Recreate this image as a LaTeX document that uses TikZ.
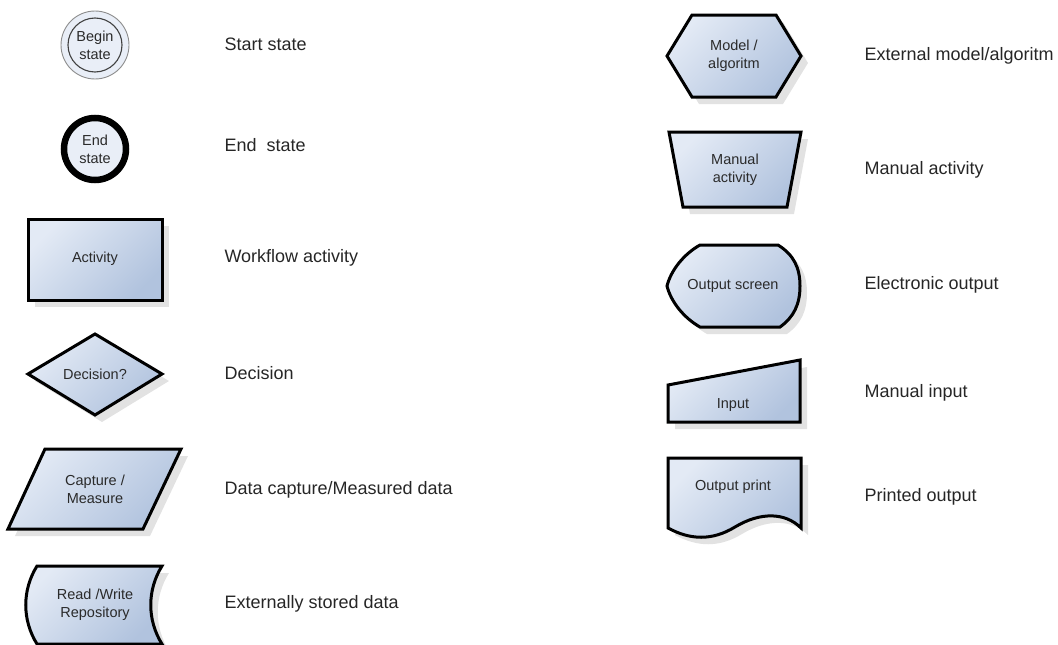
\documentclass[tikz,border=0pt]{standalone}
\usepackage{fontspec}
\setmainfont{Liberation Sans}
\usetikzlibrary{shadows}
\definecolor{symlight}{HTML}{E3EAF5}
\definecolor{symdark}{HTML}{B1C3DE}
\definecolor{ringfill}{HTML}{E9EEF7}
\definecolor{shadowgray}{HTML}{E2E2E2}
\definecolor{symtext}{HTML}{2A2A2A}
\begin{document}
\begin{tikzpicture}[x=1pt,y=-1pt,
    sym/.style={draw=black,line width=3pt,line join=miter,
      top color=symlight,bottom color=symdark,shading angle=45,
      drop shadow={shadow xshift=7pt,shadow yshift=-7pt,fill=shadowgray,opacity=1}},
    symlbl/.style={align=center,text=symtext,font=\fontsize{14.5}{18}\selectfont},
    lbl/.style={anchor=west,text=black!85,font=\fontsize{18}{22}\selectfont}]
      \useasboundingbox (0,0) rectangle (1058,645);
      \clip (0,0) rectangle (1058,645);

      % left column
      \draw[fill=ringfill,draw=black!45,line width=0.9pt] (95,45) circle (34);
      \draw[draw=black!75,line width=1.1pt] (95,45) circle (27);
      \node[symlbl] (begin) at (95,45) {Begin\\state};
      \node[lbl] (begin-lbl) at (221,44) {Start state};

      \draw[fill=ringfill,line width=6.5pt] (95,149) circle (31);
      \node[symlbl] (end) at (95,149) {End\\state};
      \node[lbl] (end-lbl) at (221,145) {End\ \ state};

      \path[sym] (28,219) rectangle (162,300);
      \node[symlbl] (activity) at (95,259) {Activity};
      \node[lbl] (activity-lbl) at (221,258) {Workflow activity};

      \path[sym] (28,374) -- (95,334) -- (162,374) -- (95,415) -- cycle;
      \node[symlbl] (decision) at (95,374) {Decision?};
      \node[lbl] (decision-lbl) at (221,373) {Decision};

      \path[sym] (45,449) -- (181,449) -- (143,529) -- (8,529) -- cycle;
      \node[symlbl] (capture) at (95,489) {Capture /\\Measure};
      \node[lbl] (capture-lbl) at (221,490) {Data capture/Measured data};

      \path[sym] (37,566) -- (162,566) .. controls (147,590) and (147,620) .. (162,644)
        -- (37,644) .. controls (22,620) and (22,590) .. (37,566) -- cycle;
      \node[symlbl] (repository) at (95,605) {Read /Write\\Repository};
      \node[lbl] (repository-lbl) at (221,604) {Externally stored data};

      % right column
      \path[sym] (667,56) -- (692,15) -- (776,15) -- (801,56) -- (776,97) -- (692,97) -- cycle;
      \node[symlbl] (model) at (734,56) {Model /\\algoritm};
      \node[lbl] (model-lbl) at (861,56) {External model/algoritm};

      \path[sym] (669,132) -- (801,132) -- (787,207) -- (683,207) -- cycle;
      \node[symlbl] (manual) at (735,170) {Manual\\activity};
      \node[lbl] (manual-lbl) at (861,170) {Manual activity};

      \path[sym] (700,245) -- (778,245) .. controls (794,255) and (800,268) .. (800,286)
        .. controls (800,304) and (794,317) .. (780,327) -- (700,327)
        .. controls (684,318) and (671,302) .. (667,286)
        .. controls (671,270) and (684,254) .. (700,245) -- cycle;
      \node[symlbl] (screen) at (733,286) {Output screen};
      \node[lbl] (screen-lbl) at (861,285) {Electronic output};

      \path[sym] (668,385) -- (800,360) -- (800,422) -- (668,422) -- cycle;
      \node[symlbl] (input) at (733,405) {Input};
      \node[lbl] (input-lbl) at (861,393) {Manual input};

      \path[sym] (668,458) -- (801,458) -- (801,528) .. controls (785,512) and (760,512) .. (735,527)
        .. controls (712,541) and (690,540) .. (668,528) -- cycle;
      \node[symlbl] (print) at (733,487) {Output print};
      \node[lbl] (print-lbl) at (861,497) {Printed output};
    \end{tikzpicture}
\end{document}
